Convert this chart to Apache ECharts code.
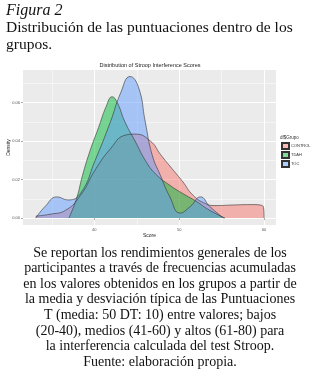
<!DOCTYPE html>
<html>
<head>
<meta charset="utf-8">
<script src="https://cdn.jsdelivr.net/npm/echarts@6/dist/echarts.min.js"></script>
<style>
  html, body { margin: 0; padding: 0; background: #fff; }
  #chart { width: 320px; height: 374px; }
</style>
</head>
<body>
<div id="chart"></div>
<script>
// datos
const groups = ['CONTROL', 'TDAH', 'TOC'];
const groupColors = ['rgba(248,118,109,0.5)', 'rgba(0,186,56,0.5)', 'rgba(97,156,255,0.5)'];

const scoreControl = [33.1, 34.8, 36.6, 38.4, 40.1, 41.9, 43.6, 44.8, 46.6, 47.8, 48.9, 50.4, 51.6, 53.1, 54.2, 56.4, 58.4, 59.9, 60.0];
const densControl  = [0.001, 0.002, 0.004, 0.012, 0.025, 0.036, 0.043, 0.0436, 0.040, 0.033, 0.027, 0.019, 0.012, 0.0075, 0.0065, 0.0068, 0.007, 0.006, 0];

const scoreTdah = [37.0, 37.9, 38.6, 39.5, 40.5, 41.4, 42.1, 42.7, 43.6, 44.8, 46.0, 47.2, 48.9, 50.7, 51.9, 53.6, 55.4];
const densTdah  = [0, 0.010, 0.022, 0.035, 0.047, 0.058, 0.063, 0.060, 0.050, 0.040, 0.030, 0.023, 0.017, 0.012, 0.009, 0.004, 0];

const scoreToc = [33.1, 34.2, 35.6, 36.9, 38.4, 40.1, 41.9, 43.1, 44.2, 45.2, 46.0, 46.8, 47.8, 48.9, 50.1, 51.3, 52.5, 53.6, 55.2];
const densToc  = [0, 0.006, 0.011, 0.0094, 0.013, 0.030, 0.050, 0.065, 0.0735, 0.068, 0.050, 0.033, 0.022, 0.011, 0.0026, 0.006, 0.011, 0.006, 0];

const xMajor = [40, 50, 60];
const xMinor = [35, 45, 55];
const yMajor = [0, 0.02, 0.04, 0.06];
const yMinor = [0.01, 0.03, 0.05, 0.07];

const captionLines = [
  'Se reportan los rendimientos generales de los',
  'participantes a través de frecuencias acumuladas',
  'en los valores obtenidos en los grupos a partir de',
  'la media y desviación típica de las Puntuaciones',
  'T (media: 50 DT: 10) entre valores; bajos',
  '(20-40), medios (41-60) y altos (61-80) para',
  'la interferencia calculada del test Stroop.',
  'Fuente: elaboración propia.'
];

const pairs = (xs, ys) => xs.map((x, i) => [x, ys[i]]);
const seriesData = [pairs(scoreControl, densControl), pairs(scoreTdah, densTdah), pairs(scoreToc, densToc)];

const serif = '"Liberation Serif", serif';
const sans = '"Liberation Sans", Arial, sans-serif';

const chart = echarts.init(document.getElementById('chart'));

const axisCommon = {
  type: 'value',
  axisLine: { show: false },
  splitLine: { show: true, lineStyle: { color: '#fff', width: 1 } },
};

const option = {
  animation: false,
  backgroundColor: '#fff',
  grid: { left: 23, top: 70, width: 253, height: 155, outerBoundsMode: 'none', containLabel: false },
  xAxis: [
    Object.assign({}, axisCommon, {
      min: 31.6, max: 61.4,
      axisTick: { show: true, length: 2, lineStyle: { color: '#555', width: 0.5 }, customValues: xMajor },
      axisLabel: { customValues: xMajor, fontSize: 4, color: '#555', margin: 3, fontFamily: sans },
      name: 'Score', nameLocation: 'middle', nameGap: 8, nameMoveOverlap: false,
      nameTextStyle: { fontSize: 5, color: '#222', fontFamily: sans }
    }),
    Object.assign({}, axisCommon, {
      min: 31.6, max: 61.4, position: 'bottom',
      axisTick: { show: false, customValues: xMinor },
      axisLabel: { show: false, customValues: xMinor },
      splitLine: { show: true, lineStyle: { color: '#fff', width: 0.5 } }
    })
  ],
  yAxis: [
    Object.assign({}, axisCommon, {
      min: -0.0036, max: 0.0769,
      axisTick: { show: true, length: 2, lineStyle: { color: '#555', width: 0.5 }, customValues: yMajor },
      axisLabel: { customValues: yMajor, fontSize: 4, color: '#555', margin: 3, fontFamily: sans,
        formatter: v => v.toFixed(2) },
      name: 'Density', nameLocation: 'middle', nameGap: 12, nameRotate: 90, nameMoveOverlap: false,
      nameTextStyle: { fontSize: 5, color: '#222', fontFamily: sans }
    }),
    Object.assign({}, axisCommon, {
      min: -0.0036, max: 0.0769, position: 'left',
      axisTick: { show: false, customValues: yMinor },
      axisLabel: { show: false, customValues: yMinor },
      splitLine: { show: true, lineStyle: { color: '#fff', width: 0.5 } }
    })
  ],
  legend: {
    left: 281, top: 142, orient: 'vertical', itemWidth: 7, itemHeight: 6, itemGap: 1,
    icon: 'rect',
    data: groups,
    textStyle: { fontSize: 4, color: '#333', fontFamily: sans, padding: [0, 0, 0, -3] },
    padding: 0
  },
  series: groups.map((g, i) => ({
    name: g,
    type: 'line',
    data: seriesData[i],
    smooth: 0.5,
    showSymbol: false,
    color: groupColors[i],
    lineStyle: { color: '#333', width: 0.6 },
    itemStyle: { color: groupColors[i], borderColor: '#333', borderWidth: 0.5 },
    areaStyle: { color: groupColors[i], opacity: 1 }
  })),
  graphic: [
    { type: 'rect', left: 23, top: 70, z: -10, silent: true,
      shape: { width: 253, height: 155 }, style: { fill: '#ebebeb' } },
    { type: 'text', left: 6, top: 3,
      style: { text: 'Figura 2', font: 'italic 16px ' + serif, fill: '#111' } },
    { type: 'text', left: 6, top: 20,
      style: { text: 'Distribución de las puntuaciones dentro de los', font: '15.5px ' + serif, fill: '#111' } },
    { type: 'text', left: 6, top: 37,
      style: { text: 'grupos.', font: '15.5px ' + serif, fill: '#111' } },
    { type: 'text', x: 150, y: 65,
      style: { text: 'Distribution of Stroop Interference Scores', font: '5.5px ' + sans, fill: '#222',
        textAlign: 'center', textVerticalAlign: 'middle' } },
    { type: 'text', x: 280, y: 138,
      style: { text: 'df$Grupo', font: '4.5px ' + sans, fill: '#333', textVerticalAlign: 'middle' } }
  ].concat(captionLines.map((t, i) => ({
    type: 'text', x: 160, y: 253 + i * 15.6,
    style: { text: t, font: '14px ' + serif, fill: '#111', textAlign: 'center', textVerticalAlign: 'middle' }
  })))
};

chart.setOption(option);
</script>
</body>
</html>
